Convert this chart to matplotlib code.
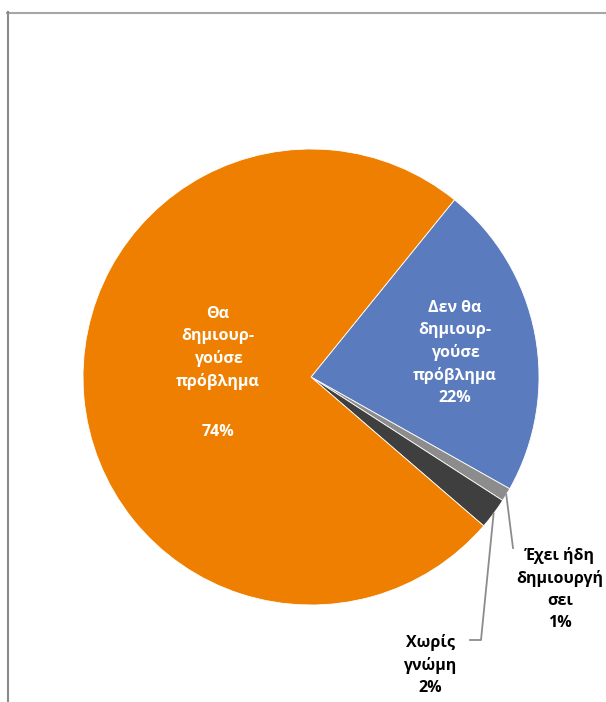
import matplotlib.pyplot as plt
import numpy as np
from matplotlib.lines import Line2D

plt.rcParams['font.family'] = ['Open Sans', 'DejaVu Sans']

# data (order clockwise, starting at the orange/blue boundary)
labels = ["Δεν θα\nδημιουρ-\nγούσε\nπρόβλημα", "Έχει ήδη\nδημιουργή\nσει", "Χωρίς\nγνώμη", "Θα\nδημιουρ-\nγούσε\nπρόβλημα"]
values = [22.2, 0.95, 2.2, 74.1]
pct_text = ["22%", "1%", "2%", "74%"]
colors = ["#5A7BBD", "#8C8C8C", "#3F3F3F", "#EE7F00"]

W, H = 606, 702
cx, cy, R = 311, 377, 228
fig = plt.figure(figsize=(W / 100, H / 100), dpi=100)
ax = fig.add_axes([(cx - R) / W, (H - cy - R) / H, 2 * R / W, 2 * R / H])

wedges, _ = ax.pie(values, colors=colors, startangle=51, counterclock=False,
                   radius=1, wedgeprops=dict(edgecolor="white", linewidth=0.6))
ax.set_xlim(-1, 1)
ax.set_ylim(-1, 1)
ax.axis("off")


def px(x, y):
    return (x - cx) / R, (cy - y) / R


fs = 11.5
ls = 1.5
# inside labels
ax.text(*px(218, 348), labels[3], color="white", fontsize=fs, fontweight="bold",
        ha="center", va="center", linespacing=ls)
ax.text(*px(218, 432), pct_text[3], color="white", fontsize=fs, fontweight="bold",
        ha="center", va="center")
ax.text(*px(455, 353), labels[0] + "\n" + pct_text[0], color="white", fontsize=fs,
        fontweight="bold", ha="center", va="center", linespacing=ls)


def mid_point(w):
    a = np.deg2rad((w.theta1 + w.theta2) / 2)
    return np.cos(a), np.sin(a)


# leader lines + outside labels
gx, gy = mid_point(wedges[1])
ax.plot([gx, px(513, 548)[0]], [gy, px(513, 548)[1]], color="#8C8C8C", lw=1.3, clip_on=False)
ax.text(*px(560, 589), labels[1] + "\n" + pct_text[1], color="black", fontsize=fs,
        fontweight="bold", ha="center", va="center", linespacing=ls)

dx, dy = mid_point(wedges[2])
p1 = px(481, 640)
p2 = px(470, 640)
ax.plot([dx, p1[0], p2[0]], [dy, p1[1], p2[1]], color="#8C8C8C", lw=1.3, clip_on=False)
ax.text(*px(430, 665), labels[2] + "\n" + pct_text[2], color="black", fontsize=fs,
        fontweight="bold", ha="center", va="center", linespacing=ls)

# chart frame (top and left only visible)
fig.add_artist(Line2D([7 / W, 1], [1 - 12.5 / H, 1 - 12.5 / H], color="#A6A6A6", lw=1.5,
                      transform=fig.transFigure))
fig.add_artist(Line2D([8 / W, 8 / W], [0, 1 - 12 / H], color="#8A8A8A", lw=1.5,
                      transform=fig.transFigure))

fig.savefig("out.png", dpi=100, facecolor="white")
